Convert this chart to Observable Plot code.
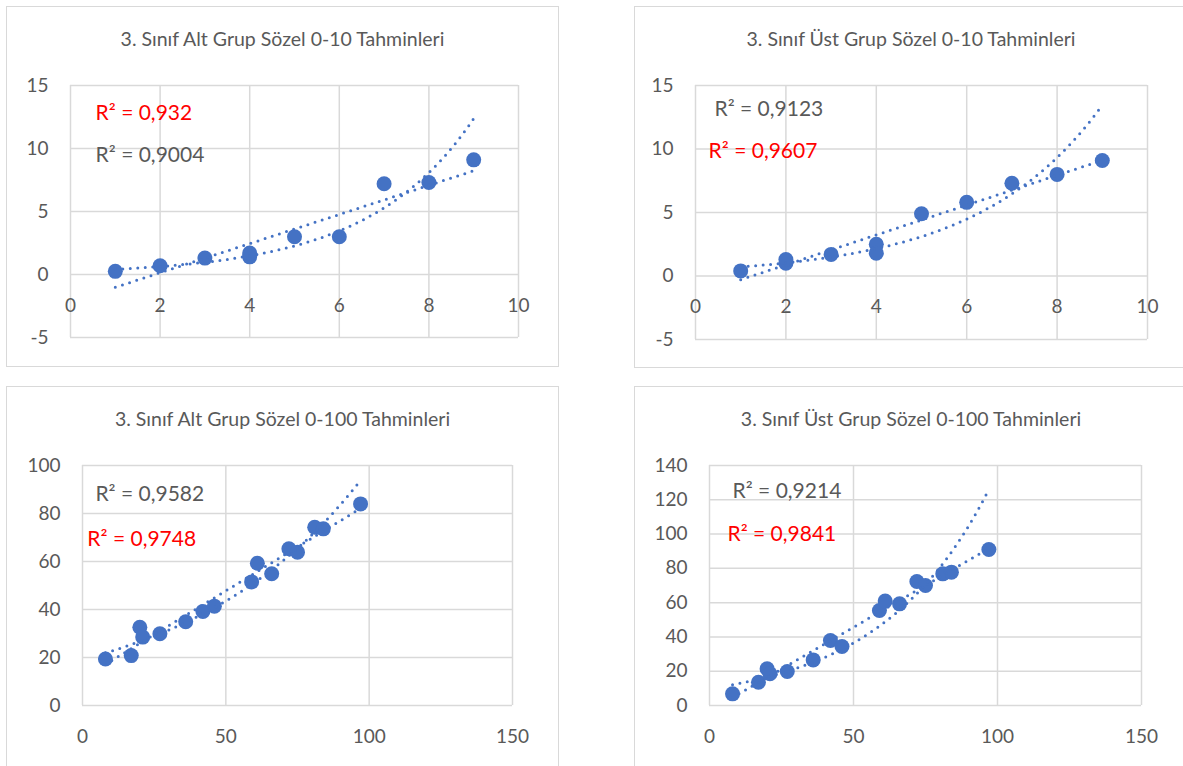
<!DOCTYPE html>
<html>
<head>
<meta charset="utf-8">
<script src="https://cdn.jsdelivr.net/npm/d3@7"></script>
<script src="https://cdn.jsdelivr.net/npm/@observablehq/plot@0.6"></script>
<style>
  html, body { margin: 0; padding: 0; background: #fff; }
  body { width: 1183px; height: 766px; overflow: hidden; position: relative; font-family: Lato, "Open Sans", sans-serif; }
  .panel { position: absolute; background: #fff; }
  .panel svg { position: absolute; left: 0; top: 0; max-width: none; }
  .border { position: absolute; left: 0; top: 0; right: 0; bottom: 0; border: 1.5px solid #D9D9D9; box-sizing: border-box; pointer-events: none; }
  .title { position: absolute; left: 0; right: 0; text-align: center; color: #595959; font-size: 19.5px; line-height: 22px; white-space: nowrap; font-weight: 400; }
</style>
</head>
<body>
<script>
// ---------- DATA ----------
const titles = [
  "3. Sınıf Alt Grup Sözel 0-10 Tahminleri",
  "3. Sınıf Üst Grup Sözel 0-10 Tahminleri",
  "3. Sınıf Alt Grup Sözel 0-100 Tahminleri",
  "3. Sınıf Üst Grup Sözel 0-100 Tahminleri"
];

const altX10 = [1, 2, 3, 4, 4, 5, 6, 7, 8, 9];
const altY10 = [0.25, 0.7, 1.3, 1.4, 1.7, 3.0, 3.0, 7.2, 7.3, 9.1];

const ustX10 = [1, 2, 2, 3, 4, 4, 5, 6, 7, 8, 9];
const ustY10 = [0.4, 1.0, 1.3, 1.7, 2.5, 1.8, 4.9, 5.8, 7.3, 8.0, 9.1];

const x100 = [8, 17, 20, 21, 27, 36, 42, 46, 59, 61, 66, 72, 75, 81, 84, 97];
const altY100 = [19.4, 20.8, 32.6, 28.5, 29.9, 34.9, 39.2, 41.4, 51.5, 59.3, 54.9, 65.3, 63.9, 74.3, 73.6, 84.0];
const ustY100 = [6.8, 13.6, 21.4, 18.5, 19.8, 26.6, 37.9, 34.4, 55.4, 60.9, 59.3, 72.3, 70.0, 76.8, 77.8, 91.0];

const ticksX10 = [0, 2, 4, 6, 8, 10];
const ticksY10 = [-5, 0, 5, 10, 15];
const ticksX100 = [0, 50, 100, 150];
const ticksYAlt100 = [0, 20, 40, 60, 80, 100];
const ticksYUst100 = [0, 20, 40, 60, 80, 100, 120, 140];

const r2Alt10 = ["R² = 0,932", "R² = 0,9004"];
const r2Ust10 = ["R² = 0,9123", "R² = 0,9607"];
const r2Alt100 = ["R² = 0,9582", "R² = 0,9748"];
const r2Ust100 = ["R² = 0,9214", "R² = 0,9841"];

// ---------- LAYOUT / STYLE ----------
const BLUE = "#4472C4", GRID = "#D9D9D9", TXT = "#595959", RED = "#FF0000";

const panels = [
  { title: titles[0], xs: altX10, ys: altY10, xt: ticksX10, yt: ticksY10, r2: r2Alt10,
    r2Colors: [RED, TXT], r2Pos: [[0.56, 12.8], [0.56, 9.5]],
    box: { left: 6, top: 6, width: 553, height: 361 },
    margin: { left: 64, right: 41, top: 79, bottom: 30 }, titleTop: 22 },
  { title: titles[1], xs: ustX10, ys: ustY10, xt: ticksX10, yt: ticksY10, r2: r2Ust10,
    r2Colors: [TXT, RED], r2Pos: [[0.42, 13.15], [0.29, 9.84]],
    box: { left: 634, top: 6, width: 554, height: 362 },
    margin: { left: 61, right: 41, top: 79, bottom: 29 }, titleTop: 22 },
  { title: titles[2], xs: x100, ys: altY100, xt: ticksX100, yt: ticksYAlt100, r2: r2Alt100,
    r2Colors: [TXT, RED], r2Pos: [[4.5, 87.9], [1.7, 69.2]],
    box: { left: 6, top: 386, width: 553, height: 400 },
    margin: { left: 76, right: 47, top: 79, bottom: 81 }, titleTop: 22 },
  { title: titles[3], xs: x100, ys: ustY100, xt: ticksX100, yt: ticksYUst100, r2: r2Ust100,
    r2Colors: [TXT, RED], r2Pos: [[8.0, 124.8], [6.25, 99.8]],
    box: { left: 634, top: 386, width: 554, height: 400 },
    margin: { left: 75, right: 47, top: 79, bottom: 81 }, titleTop: 22 }
];

// ---------- FITS (least squares, as the spreadsheet trendlines) ----------
function linFit(xs, ys) {
  const mx = d3.mean(xs), my = d3.mean(ys);
  let sxy = 0, sxx = 0;
  xs.forEach((x, i) => { sxy += (x - mx) * (ys[i] - my); sxx += (x - mx) ** 2; });
  const b = sxy / sxx;
  return { a: my - b * mx, b };
}
function expFit(xs, ys) {
  const f = linFit(xs, ys.map(Math.log));
  return { a: Math.exp(f.a), b: f.b };
}

const lineStyle = { stroke: BLUE, strokeWidth: 3, strokeDasharray: "0 7.5", strokeLinecap: "round" };

panels.forEach(p => {
  const pts = p.xs.map((x, i) => ({ x, y: p.ys[i] }));
  const [x0, x1] = d3.extent(p.xs);
  const lf = linFit(p.xs, p.ys);
  const ef = expFit(p.xs, p.ys);
  const linPts = [x0, x1].map(x => ({ x, y: lf.a + lf.b * x }));
  const n = 120;
  const expPts = d3.range(n + 1).map(i => { const x = x0 + (x1 - x0) * i / n; return { x, y: ef.a * Math.exp(ef.b * x) }; });
  const xDom = d3.extent(p.xt), yDom = d3.extent(p.yt);
  const axisY = Math.max(0, yDom[0]);
  const r2Data = p.r2.map((t, i) => ({ t, x: p.r2Pos[i][0], y: p.r2Pos[i][1], c: p.r2Colors[i] }));

  const chart = Plot.plot({
    width: p.box.width,
    height: p.box.height,
    marginLeft: p.margin.left, marginRight: p.margin.right,
    marginTop: p.margin.top, marginBottom: p.margin.bottom,
    style: { background: "transparent", fontFamily: "Lato, 'Open Sans', sans-serif", overflow: "visible" },
    x: { domain: xDom, axis: null },
    y: { domain: yDom, axis: null },
    marks: [
      Plot.gridX(p.xt, { stroke: GRID, strokeOpacity: 1, strokeWidth: 1.5 }),
      Plot.gridY(p.yt, { stroke: GRID, strokeOpacity: 1, strokeWidth: 1.5 }),
      Plot.text(p.yt, { y: d => d, frameAnchor: "left", dx: -22, textAnchor: "end", fill: TXT, fontSize: 19, text: d => String(d) }),
      Plot.text(p.xt, { x: d => d, y: () => axisY, dy: 31, textAnchor: "middle", fill: TXT, fontSize: 19, text: d => String(d) }),
      Plot.dot(pts, { x: "x", y: "y", r: 7.5, fill: BLUE, stroke: null }),
      Plot.line(expPts, { x: "x", y: "y", ...lineStyle }),
      Plot.line(linPts, { x: "x", y: "y", ...lineStyle }),
      Plot.text(r2Data, { x: "x", y: "y", text: "t", fill: "c", textAnchor: "start", fontSize: 21 })
    ]
  });

  const div = document.createElement("div");
  div.className = "panel";
  Object.assign(div.style, { left: p.box.left + "px", top: p.box.top + "px", width: p.box.width + "px", height: p.box.height + "px" });
  div.appendChild(chart);
  const t = document.createElement("div");
  t.className = "title";
  t.style.top = p.titleTop + "px";
  t.textContent = p.title;
  div.appendChild(t);
  const b = document.createElement("div");
  b.className = "border";
  div.appendChild(b);
  document.body.appendChild(div);
});
</script>
</body>
</html>
